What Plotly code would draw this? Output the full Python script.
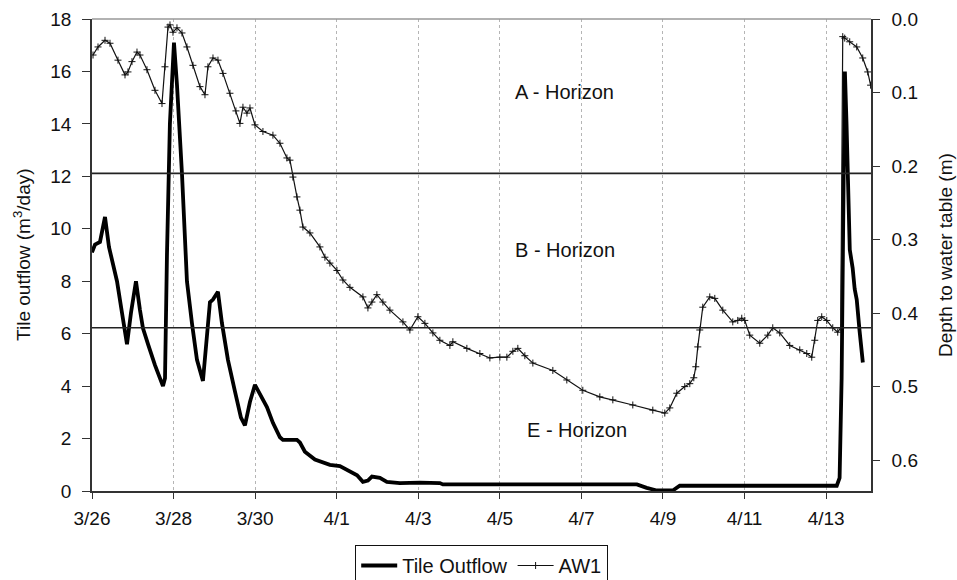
import pandas as pd
import plotly.graph_objects as go

# Start of the monitoring period; times below are in days from this moment
start = pd.Timestamp("2005-03-26 00:00")

# Tile outflow (m3/day)
tile_days = [0.0, 0.074, 0.196, 0.319, 0.417, 0.613, 0.735, 0.858, 0.956, 1.078,
             1.176, 1.25, 1.373, 1.544, 1.74, 1.79, 1.838, 1.91, 2.01, 2.083,
             2.206, 2.328, 2.451, 2.574, 2.72, 2.819, 2.892, 2.966, 3.088, 3.186,
             3.333, 3.505, 3.652, 3.75, 3.873, 3.995, 4.118, 4.289, 4.436, 4.608,
             4.681, 5.025, 5.098, 5.22, 5.466, 5.833, 6.078, 6.324, 6.5, 6.642,
             6.765, 6.863, 7.059, 7.23, 7.549, 8.04, 8.53, 8.603, 10.0, 10.98,
             12.45, 13.36, 13.6, 13.85, 14.24, 14.41, 14.9, 16.37, 18.26, 18.33,
             18.38, 18.43, 18.46, 18.5, 18.53, 18.58, 18.65, 18.7, 18.75, 18.77,
             18.82, 18.9]
tile_flow = [9.1, 9.4, 9.5, 10.45, 9.3, 8.0, 6.8, 5.6, 6.8, 8.0,
             6.9, 6.2, 5.6, 4.8, 4.0, 4.3, 9.0, 14.0, 17.1, 15.5,
             12.1, 8.0, 6.4, 5.0, 4.2, 6.0, 7.2, 7.3, 7.6, 6.4,
             5.0, 3.8, 2.8, 2.5, 3.4, 4.05, 3.7, 3.2, 2.6, 2.05,
             1.95, 1.95, 1.85, 1.5, 1.2, 1.0, 0.95, 0.75, 0.6, 0.35,
             0.4, 0.55, 0.5, 0.35, 0.3, 0.32, 0.3, 0.25, 0.25, 0.25,
             0.25, 0.25, 0.12, 0.02, 0.02, 0.2, 0.2, 0.2, 0.2, 0.5,
             4.3, 12.0, 16.0, 14.0, 12.1, 9.2, 8.5, 7.7, 7.3, 6.8,
             6.1, 4.9]

# AW1 well: depth to water table (m)
aw1_days = [0.025, 0.147, 0.319, 0.441, 0.637, 0.809, 0.882, 0.98, 1.103, 1.176,
            1.348, 1.544, 1.716, 1.789, 1.863, 1.912, 1.985, 2.083, 2.206, 2.328,
            2.475, 2.647, 2.77, 2.843, 2.966, 3.088, 3.211, 3.382, 3.529, 3.627,
            3.701, 3.799, 3.873, 3.995, 4.191, 4.436, 4.608, 4.779, 4.853, 4.926,
            5.025, 5.098, 5.172, 5.343, 5.588, 5.711, 5.833, 6.005, 6.152, 6.324,
            6.642, 6.765, 6.863, 6.985, 7.132, 7.304, 7.623, 7.794, 7.99, 8.162,
            8.358, 8.529, 8.775, 8.848, 9.191, 9.51, 9.755, 10.0, 10.172, 10.319,
            10.441, 10.613, 10.809, 11.299, 11.642, 12.034, 12.451, 12.77, 13.26, 13.75,
            14.044, 14.167, 14.338, 14.534, 14.657, 14.755, 14.804, 14.853, 14.902, 14.975,
            15.147, 15.27, 15.466, 15.711, 15.833, 15.931, 16.005, 16.127, 16.373, 16.569,
            16.691, 16.863, 17.108, 17.353, 17.525, 17.647, 17.721, 17.794, 17.892, 18.015,
            18.162, 18.284, 18.358, 18.407, 18.456, 18.578, 18.75, 18.897, 19.02, 19.09]
aw1_depth = [0.049, 0.038, 0.029, 0.033, 0.056, 0.076, 0.072, 0.058, 0.045, 0.049,
             0.069, 0.097, 0.115, 0.065, 0.011, 0.008, 0.018, 0.012, 0.019, 0.038,
             0.063, 0.092, 0.103, 0.065, 0.053, 0.056, 0.074, 0.101, 0.125, 0.142,
             0.12, 0.128, 0.121, 0.144, 0.153, 0.158, 0.169, 0.189, 0.192, 0.215,
             0.242, 0.26, 0.283, 0.291, 0.31, 0.324, 0.332, 0.342, 0.355, 0.365,
             0.378, 0.393, 0.385, 0.375, 0.385, 0.396, 0.412, 0.423, 0.405, 0.414,
             0.427, 0.437, 0.444, 0.439, 0.448, 0.455, 0.461, 0.46, 0.46, 0.452,
             0.448, 0.458, 0.468, 0.478, 0.491, 0.505, 0.514, 0.518, 0.525, 0.532,
             0.536, 0.529, 0.509, 0.5, 0.496, 0.488, 0.473, 0.446, 0.423, 0.392,
             0.378, 0.38, 0.396, 0.412, 0.41, 0.407, 0.41, 0.43, 0.441, 0.43,
             0.42, 0.427, 0.444, 0.45, 0.455, 0.46, 0.437, 0.41, 0.405, 0.41,
             0.42, 0.426, 0.42, 0.024, 0.026, 0.031, 0.038, 0.053, 0.072, 0.09]

# Soil horizon boundaries (depth, m) and their labels
horizon_depths = [0.21, 0.42]
horizon_labels = ["A - Horizon", "B - Horizon", "E - Horizon"]
horizon_label_days = [11.59, 11.59, 11.89]
horizon_label_flow = [15.2, 9.2, 2.33]

tile_t = [start + pd.Timedelta(days=d) for d in tile_days]
aw1_t = [start + pd.Timedelta(days=d) for d in aw1_days]
x_end = start + pd.Timedelta(days=19.1)

FONT = "Liberation Sans, Arial, sans-serif"

fig = go.Figure()

fig.add_trace(go.Scatter(
    x=aw1_t, y=aw1_depth, name="AW1", yaxis="y2", mode="lines+markers",
    line=dict(color="#111", width=1.2),
    marker=dict(symbol="cross-thin", size=5, line=dict(color="#111", width=1)),
    legendrank=2,
))
fig.add_trace(go.Scatter(
    x=tile_t, y=tile_flow, name="Tile Outflow", mode="lines",
    line=dict(color="#000", width=3.8),
    legendrank=1,
))

for depth in horizon_depths:
    fig.add_shape(type="line", xref="paper", x0=0, x1=1, yref="y2", y0=depth, y1=depth,
                  line=dict(color="#222", width=1.6))

# light top border of the plot frame
fig.add_shape(type="line", xref="paper", x0=0, x1=1, yref="paper", y0=1, y1=1,
              line=dict(color="#999", width=1.5))

for label, d, v in zip(horizon_labels, horizon_label_days, horizon_label_flow):
    fig.add_annotation(x=start + pd.Timedelta(days=d), y=v, text=label, showarrow=False,
                       font=dict(family=FONT, size=20, color="#111"))

# axis titles, placed as rotated annotations
fig.add_annotation(xref="paper", yref="paper", x=-0.09, y=0.5, xanchor="center",
                   yanchor="middle", textangle=-90, showarrow=False,
                   text="Tile outflow (m<sup>3</sup>/day)",
                   font=dict(family=FONT, size=19, color="#111"))
fig.add_annotation(xref="paper", yref="paper", x=1.095, y=0.5, xanchor="center",
                   yanchor="middle", textangle=-90, showarrow=False,
                   text="Depth to water table (m)",
                   font=dict(family=FONT, size=19, color="#111"))

fig.update_layout(
    width=957, height=580,
    margin=dict(l=92, r=86, t=19, b=89, autoexpand=False),
    paper_bgcolor="white", plot_bgcolor="white",
    font=dict(family=FONT, size=19, color="#111"),
    showlegend=True,
    legend=dict(orientation="h", x=0.5, xanchor="center", y=-0.114, yanchor="top",
                bordercolor="#111", borderwidth=1.2, font=dict(size=20),
                itemwidth=36, tracegroupgap=0),
    xaxis=dict(
        type="date", range=[start, x_end], tick0=start, dtick=2 * 86400000,
        tickformat="%-m/%-d", ticks="outside", ticklen=6, tickcolor="#333",
        showline=True, linecolor="#333", linewidth=1.5,
        showgrid=True, gridcolor="#b5b5b5", griddash="dot", gridwidth=1,
        zeroline=False, tickfont=dict(size=19), ticklabelstandoff=3,
    ),
    yaxis=dict(
        range=[0, 18], dtick=2, ticks="outside", ticklen=8, tickcolor="#333",
        showline=True, linecolor="#333", linewidth=1.5, showgrid=False, zeroline=False,
        tickfont=dict(size=19), ticklabelstandoff=7,
    ),
    yaxis2=dict(
        overlaying="y", side="right", range=[0.642, 0], dtick=0.1, tickformat=".1f",
        ticks="outside", ticklen=7, tickcolor="#333",
        showline=True, linecolor="#333", linewidth=1.5, showgrid=False, zeroline=False,
        tickfont=dict(size=19), ticklabelstandoff=8,
    ),
)

fig.write_html("out.html")
